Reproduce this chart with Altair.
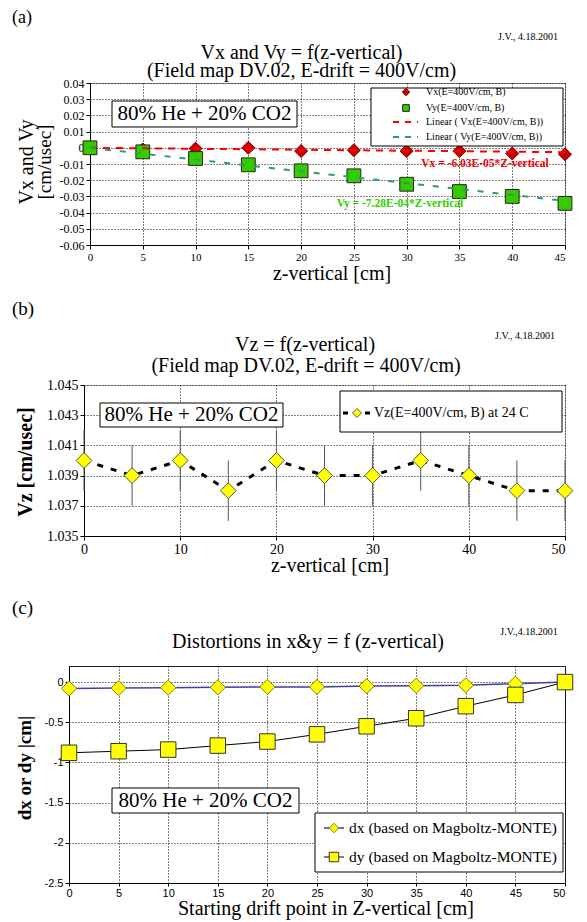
import altair as alt
import pandas as pd

SERIF = "Liberation Serif"
SANS = "Liberation Sans"

# ---------------- data: panel (a) ----------------
z_a = [0, 5, 10, 15, 20, 25, 30, 35, 40, 45]
vx = [0.0, -0.001, -0.0005, 0.0, -0.002, -0.0015, -0.002, -0.002, -0.0035, -0.004]
vy = [0.0, -0.0025, -0.0066, -0.0105, -0.0142, -0.0173, -0.0225, -0.027, -0.030, -0.0343]
fit_z = [0, 45]
vx_fit = [0.0, -0.00271]
vy_fit = [0.0, -0.03276]
a_yticks = [0.04, 0.03, 0.02, 0.01, 0, -0.01, -0.02, -0.03, -0.04, -0.05, -0.06]

# ---------------- data: panel (b) ----------------
z_b = [0, 5, 10, 15, 20, 25, 30, 35, 40, 45, 50]
vz = [1.040, 1.039, 1.040, 1.038, 1.040, 1.039, 1.039, 1.040, 1.039, 1.038, 1.038]
vz_err = [0.002, 0.002, 0.002, 0.002, 0.002, 0.002, 0.002, 0.002, 0.002, 0.002, 0.002]
b_xticks = [0, 10, 20, 30, 40, 50]
b_yticks = [1.035, 1.037, 1.039, 1.041, 1.043, 1.045]

# ---------------- data: panel (c) ----------------
z_c = [0, 5, 10, 15, 20, 25, 30, 35, 40, 45, 50]
dx = [-0.08, -0.075, -0.07, -0.065, -0.06, -0.06, -0.05, -0.045, -0.04, -0.02, 0.0]
dy = [-0.88, -0.86, -0.84, -0.79, -0.74, -0.65, -0.55, -0.45, -0.30, -0.16, 0.0]
c_yticks = [0, -0.5, -1, -1.5, -2, -2.5]

ONE = pd.DataFrame({"k": [0]})


def text(s, x, y, size, font=SERIF, align="center", angle=0, weight="normal",
         color="black", baseline="middle"):
    props = dict(text=s, fontSize=size, font=font, align=align, baseline=baseline,
                 fontWeight=weight, color=color)
    if angle:
        props["angle"] = angle
    return alt.Chart(ONE).mark_text(**props).encode(x=alt.value(x), y=alt.value(y))


def box(x1, x2, y1, y2, stroke="black", sw=1):
    return alt.Chart(ONE).mark_rect(fill="white", stroke=stroke, strokeWidth=sw).encode(
        x=alt.value(x1), x2=alt.value(x2), y=alt.value(y1), y2=alt.value(y2))


def frame(x1, x2, y1, y2):
    return alt.Chart(ONE).mark_rect(opacity=0).encode(
        x=alt.value(x1), x2=alt.value(x2), y=alt.value(y1), y2=alt.value(y2))


def seg(x1, x2, y, color, dash=None, width=1.0):
    props = dict(color=color, strokeWidth=width)
    if dash:
        props["strokeDash"] = dash
    return alt.Chart(ONE).mark_rule(**props).encode(
        x=alt.value(x1), x2=alt.value(x2), y=alt.value(y))


def sym(x, y, shape, size, fill, stroke):
    return alt.Chart(ONE).mark_point(shape=shape, size=size, filled=True, fill=fill,
                                     stroke=stroke, strokeWidth=1, opacity=1).encode(
        x=alt.value(x), y=alt.value(y))


def axis(vals, size, font=SERIF, ticksize=4, pad=2, last=None):
    kw = dict(values=vals, title=None, grid=True, gridColor="black",
              gridDash=[1, 2], gridOpacity=1, gridWidth=1,
              domainColor="black", domainWidth=1, tickColor="black",
              tickSize=ticksize, labelFont=font, labelFontSize=size,
              labelColor="black", labelPadding=pad, labelFlush=False,
              labelOverlap=False, labelExpr="'' + datum.value")
    if last is not None:
        kw["labelAlign"] = alt.ExprRef(expr="datum.value == %s ? 'right' : 'center'" % last)
    return alt.Axis(**kw)


def spacer():
    return alt.Chart(ONE).mark_rect(opacity=0).encode(
        x=alt.value(0), x2=alt.value(1), y=alt.value(0), y2=alt.value(1)
    ).properties(width=1, height=1,
                 view=alt.ViewBackground(stroke="transparent", fill="transparent"))


# ================= panel (a) =================
WA, HA = 475, 162
xa = alt.X("z:Q", scale=alt.Scale(domain=[0, 45], nice=False, zero=False),
           axis=axis(z_a, 11, last=45))
ya = alt.Y("v:Q", scale=alt.Scale(domain=[-0.06, 0.04], nice=False, zero=False),
           axis=axis(a_yticks, 12))

df_vx = pd.DataFrame({"z": z_a, "v": vx})
df_vy = pd.DataFrame({"z": z_a, "v": vy})
df_fx = pd.DataFrame({"z": fit_z, "v": vx_fit})
df_fy = pd.DataFrame({"z": fit_z, "v": vy_fit})

pa = alt.layer(
    frame(-78, 475, -74, 206),
    alt.Chart(df_vx).mark_point(shape="diamond", size=170, filled=True, fill="#cc0000",
                                stroke="#7a0000", strokeWidth=1, opacity=1).encode(x=xa, y=ya),
    alt.Chart(df_vy).mark_point(shape="square", size=190, filled=True, fill="#33cc00",
                                stroke="#222222", strokeWidth=1, opacity=1).encode(x=xa, y=ya),
    alt.Chart(df_fx).mark_line(color="#ff0000", strokeWidth=2, strokeDash=[7, 6]).encode(x=xa, y=ya),
    alt.Chart(df_fy).mark_line(color="#339966", strokeWidth=2, strokeDash=[6, 9]).encode(x=xa, y=ya),
    box(22, 207, 18, 44),
    text("80% He + 20% CO2", 114.5, 31, 21),
    box(281, 473, 5, 63),
    sym(316, 9, "diamond", 55, "#cc0000", "#7a0000"),
    sym(316, 25, "square", 45, "#33cc00", "#222222"),
    seg(303, 328, 39, "#ff0000", [6, 6], 2),
    seg(303, 328, 54, "#339966", [6, 6], 2),
    text("Vx(E=400V/cm, B)", 336, 9, 10, align="left"),
    text("Vy(E=400V/cm, B)", 336, 25, 10, align="left"),
    text("Linear ( Vx(E=400V/cm, B))", 336, 39, 10, align="left"),
    text("Linear ( Vy(E=400V/cm, B))", 336, 54, 10, align="left"),
    text("Vx = -6.03E-05*Z-vertical", 395, 81, 11.5, weight="bold", color="#ee0000"),
    text("Vy = -7.28E-04*Z-vertical", 310, 121, 11.5, weight="bold", color="#33cc00"),
    text("(a)", -78, -65, 18, align="left"),
    text("Vx and Vy = f(z-vertical)", 211.5, -30, 20),
    text("(Field map DV.02, E-drift = 400V/cm)", 211.5, -12, 20),
    text("J.V., 4.18.2001", 438, -46, 10),
    text("Vx and Vy", -63, 79, 20, angle=270),
    text("[cm/usec]", -45, 79, 19, angle=270),
    text("z-vertical [cm]", 242, 191, 20),
).properties(width=WA, height=HA, view=alt.ViewBackground(stroke="#999999", fill="white"))

# ================= panel (b) =================
WB, HB = 481, 151
xb = alt.X("z:Q", scale=alt.Scale(domain=[0, 50], nice=False, zero=False),
           axis=axis(b_xticks, 14, last=50))
yb_axis = axis(b_yticks, 14)
yb_scale = alt.Scale(domain=[1.035, 1.045], nice=False, zero=False)

df_vz = pd.DataFrame({"z": z_b, "v": vz, "err": vz_err})
df_vz["lo"] = df_vz["v"] - df_vz["err"]
df_vz["hi"] = df_vz["v"] + df_vz["err"]

pb = alt.layer(
    frame(-72, 481, -94, 204),
    alt.Chart(df_vz).mark_rule(color="#555555", strokeWidth=1).encode(
        x=xb, y=alt.Y("lo:Q", scale=yb_scale, axis=yb_axis), y2="hi:Q"),
    alt.Chart(df_vz).mark_line(color="black", strokeWidth=3, strokeDash=[6, 8]).encode(
        x=xb, y=alt.Y("v:Q", scale=yb_scale, axis=yb_axis)),
    alt.Chart(df_vz).mark_point(shape="diamond", size=250, filled=True, fill="#ffff00",
                                stroke="#555555", strokeWidth=1, opacity=1).encode(
        x=xb, y=alt.Y("v:Q", scale=yb_scale, axis=yb_axis)),
    box(16, 199, 18, 42),
    text("80% He + 20% CO2", 107.5, 30, 21),
    box(256, 478, 6, 47),
    seg(259, 286, 28, "black", [5, 17], 3),
    sym(273, 28, "diamond", 80, "#ffff00", "#555555"),
    text("Vz(E=400V/cm, B) at 24 C", 290, 28, 14, align="left"),
    text("(b)", -72, -76, 19, align="left"),
    text("Vz = f(z-vertical)", 221, -40, 20),
    text("(Field map DV.02, E-drift = 400V/cm)", 222, -19, 20),
    text("J.V., 4.18.2001", 441, -49, 10),
    text("Vz [cm/usec]", -58, 77, 20, angle=270, weight="bold"),
    text("z-vertical [cm]", 246, 181, 20),
).properties(width=WB, height=HB, view=alt.ViewBackground(stroke="#bbbbbb", fill="white"))

# ================= panel (c) =================
WC, HC = 496, 217
xc = alt.X("z:Q", scale=alt.Scale(domain=[0, 50], nice=False, zero=False),
           axis=axis(z_c, 11, SANS, ticksize=3, pad=1, last=50))
yc = alt.Y("v:Q", scale=alt.Scale(domain=[-2.5, 0.2], nice=False, zero=False),
           axis=axis(c_yticks, 11, SANS))

df_dx = pd.DataFrame({"z": z_c, "v": dx})
df_dy = pd.DataFrame({"z": z_c, "v": dy})

pc = alt.layer(
    frame(-57, 496, -75, 252),
    alt.Chart(df_dx).mark_line(color="#4040a0", strokeWidth=1.5).encode(x=xc, y=yc),
    alt.Chart(df_dy).mark_line(color="black", strokeWidth=1).encode(x=xc, y=yc),
    alt.Chart(df_dx).mark_point(shape="diamond", size=230, filled=True, fill="#ffff00",
                                stroke="#808000", strokeWidth=1, opacity=1).encode(x=xc, y=yc),
    alt.Chart(df_dy).mark_point(shape="square", size=240, filled=True, fill="#ffff00",
                                stroke="#333333", strokeWidth=1, opacity=1).encode(x=xc, y=yc),
    box(43, 230, 122, 147),
    text("80% He + 20% CO2", 136.5, 134.5, 21),
    box(246, 494, 147, 206),
    seg(255, 275, 162, "#4040a0", None, 1.5),
    sym(265, 162, "diamond", 90, "#ffff00", "#808000"),
    seg(255, 275, 191, "black", None, 1),
    sym(265, 191, "square", 90, "#ffff00", "#333333"),
    text("dx (based on Magboltz-MONTE)", 280, 162, 15.5, align="left"),
    text("dy (based on Magboltz-MONTE)", 280, 191, 15.5, align="left"),
    text("(c)", -57, -58, 19, align="left"),
    text("Distortions in x&y = f (z-vertical)", 239, -24, 20),
    text("J.V.,4.18.2001", 460, -34, 10),
    text("dx or dy |cm|", -44, 102, 19, angle=270, weight="bold"),
    text("Starting drift point in Z-vertical [cm]", 257, 243, 20),
).properties(width=WC, height=HC, view=alt.ViewBackground(stroke="#222222", fill="white"))

rows = [alt.hconcat(spacer(), p, spacing=0) for p in (pa, pb, pc)]
chart = alt.VConcatChart(vconcat=rows, spacing=0, padding=0, background="white")

chart.save("out.html", embed_options={"renderer": "svg", "actions": False})
